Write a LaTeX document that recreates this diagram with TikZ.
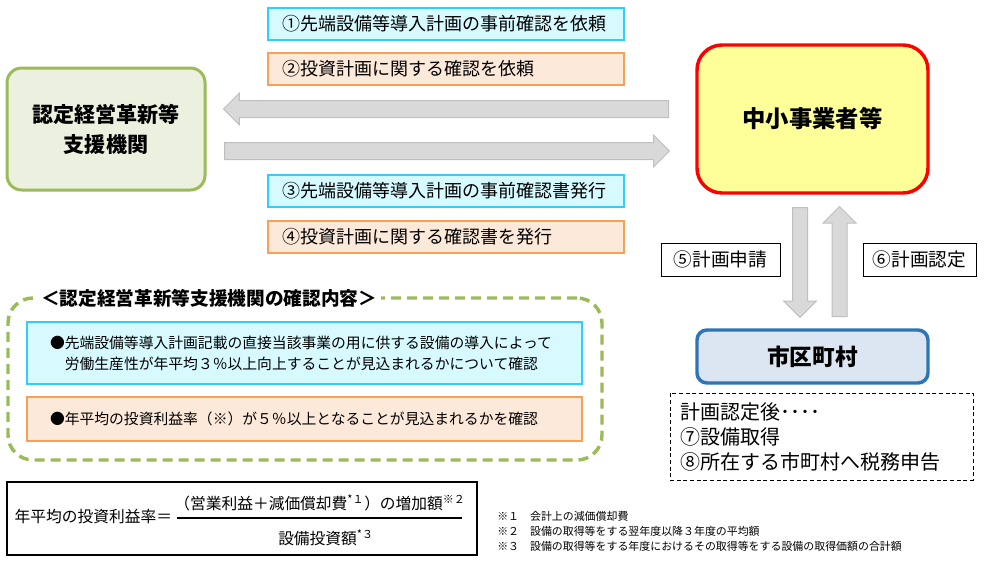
\documentclass[tikz,border=0pt]{standalone}
\usepackage{fontspec}
\setmainfont{Noto Sans CJK JP}
\usetikzlibrary{shapes.arrows}
\definecolor{olivegreen}{RGB}{155,187,89}
\definecolor{olivefill}{RGB}{235,241,222}
\definecolor{boxred}{RGB}{255,0,0}
\definecolor{paleyellow}{RGB}{255,255,153}
\definecolor{cyanfill}{RGB}{214,250,255}
\definecolor{cyanline}{RGB}{51,204,255}
\definecolor{orangefill}{RGB}{253,233,217}
\definecolor{orangeline}{RGB}{247,160,90}
\definecolor{cityfill}{RGB}{220,230,242}
\definecolor{cityline}{RGB}{46,117,182}
\definecolor{arrowfill}{RGB}{217,217,217}
\definecolor{arrowline}{RGB}{191,191,191}
\begin{document}
\begin{tikzpicture}[x=0.75pt,y=-0.75pt,
  cyanbox/.style={draw=cyanline,fill=cyanfill,line width=1.1pt},
  orangebox/.style={draw=orangeline,fill=orangefill,line width=1.1pt},
  reqbox/.style={minimum width=267pt,minimum height=24pt,text width=246pt,inner xsep=10.5pt,inner ysep=0pt,align=left,font=\fontsize{13.5}{16}\selectfont},
  fatarrow/.style={single arrow,draw=arrowline,fill=arrowfill,line width=0.75pt,anchor=tail},
  harrow/.style={fatarrow,minimum height=333.75pt,minimum width=23.25pt,inner sep=6pt,single arrow head extend=5.6pt},
  varrow/.style={fatarrow,minimum height=82.5pt,minimum width=24pt,inner sep=5.25pt,single arrow head extend=6.75pt},
  stepbox/.style={draw,line width=0.75pt,minimum height=24.75pt,font=\fontsize{14}{16}\selectfont},
  checkbox/.style={minimum width=416.25pt,text width=381.75pt,inner xsep=17.25pt,align=left,font=\fontsize{11.1}{15.75}\selectfont}]
\useasboundingbox (0,0) rectangle (985,565);
% the two parties
\node[draw=olivegreen,fill=olivefill,line width=2.25pt,rounded corners=11pt,minimum width=148.5pt,minimum height=91.5pt,align=center,font=\fontsize{15.8}{22.5}\selectfont\bfseries] (shien) at (106,129) {認定経営革新等\\支援機関};
\node[draw=boxred,fill=paleyellow,line width=2.6pt,rounded corners=18.75pt,minimum width=173.25pt,minimum height=111pt,font=\fontsize{17.5}{20}\selectfont\bfseries] (chusho) at (812.5,119) {中小事業者等};
% requests and issues
\node[reqbox,cyanbox] (req1) at (446,24) {①先端設備等導入計画の事前確認を依頼};
\node[reqbox,orangebox] (req2) at (446,69) {②投資計画に関する確認を依頼};
\node[reqbox,cyanbox] (iss3) at (446,191) {③先端設備等導入計画の事前確認書発行};
\node[reqbox,orangebox] (iss4) at (446,237) {④投資計画に関する確認書を発行};
\node[harrow,shape border rotate=180] (toshien) at (669,109) {};
\node[harrow] (tochusho) at (224,151) {};
% plan to the city
\node[varrow,shape border rotate=270] (tocity) at (800,207) {};
\node[varrow,shape border rotate=90] (fromcity) at (839.5,317) {};
\node[stepbox,minimum width=89.25pt] (step5) at (720.5,259.5) {⑤計画申請};
\node[stepbox,minimum width=84.75pt] (step6) at (919.5,259.5) {⑥計画認定};
\node[draw=cityline,fill=cityfill,line width=2.6pt,rounded corners=7.5pt,minimum width=173.25pt,minimum height=39.75pt,font=\fontsize{17}{20}\selectfont\bfseries] (city) at (812.5,356.5) {市区町村};
\node[draw,densely dashed,line width=0.75pt,minimum width=227.25pt,minimum height=65.25pt,text width=212.25pt,inner xsep=7.5pt,align=left,font=\fontsize{15}{18.75}\selectfont] (after) at (821.5,436.5) {計画認定後････\\⑦設備取得\\⑧所在する市町村へ税務申告};
% what the agency checks
\node[draw=olivegreen,line width=2.6pt,dash pattern=on 7.5pt off 4.5pt,rounded corners=18.75pt,minimum width=445.5pt,minimum height=121.5pt] (frame) at (305,379) {};
\node[fill=white,anchor=west,inner xsep=3pt,inner ysep=1pt,font=\fontsize{14}{16}\selectfont\bfseries] (frametitle) at (37,298) {＜認定経営革新等支援機関の確認内容＞};
\node[checkbox,cyanbox,minimum height=46.5pt] (check1) at (304.5,353) {●先端設備等導入計画記載の直接当該事業の用に供する設備の導入によって\\\phantom{●}労働生産性が年平均３％以上向上することが見込まれるかについて確認};
\node[checkbox,orangebox,minimum height=33pt] (check2) at (304.5,419) {●年平均の投資利益率（※）が５％以上となることが見込まれるかを確認};
% formula
\node[draw,line width=1.5pt,minimum width=352.5pt,minimum height=54.75pt] (formula) at (242,518.5) {};
\node[anchor=west,font=\fontsize{11.8}{14}\selectfont] (rate) at (10,517) {年平均の投資利益率＝};
\node[font=\fontsize{11.8}{14}\selectfont] (numer) at (320,503) {（営業利益＋減価償却費\textsuperscript{*１}）の増加額\textsuperscript{※２}};
\node[font=\fontsize{11.8}{14}\selectfont] (denom) at (326,538) {設備投資額\textsuperscript{*３}};
\coordinate (barL) at (177,518);
\coordinate (barR) at (462,518);
\draw[line width=1.5pt] (barL) -- (barR);
\foreach \y/\txt in {516/{※１　会計上の減価償却費},531/{※２　設備の取得等をする翌年度以降３年度の平均額},546/{※３　設備の取得等をする年度におけるその取得等をする設備の取得価額の合計額}}
  \node[anchor=west,inner sep=0pt,font=\fontsize{8.2}{10}\selectfont] (note\y) at (497,\y) {\txt};
\end{tikzpicture}
\end{document}
